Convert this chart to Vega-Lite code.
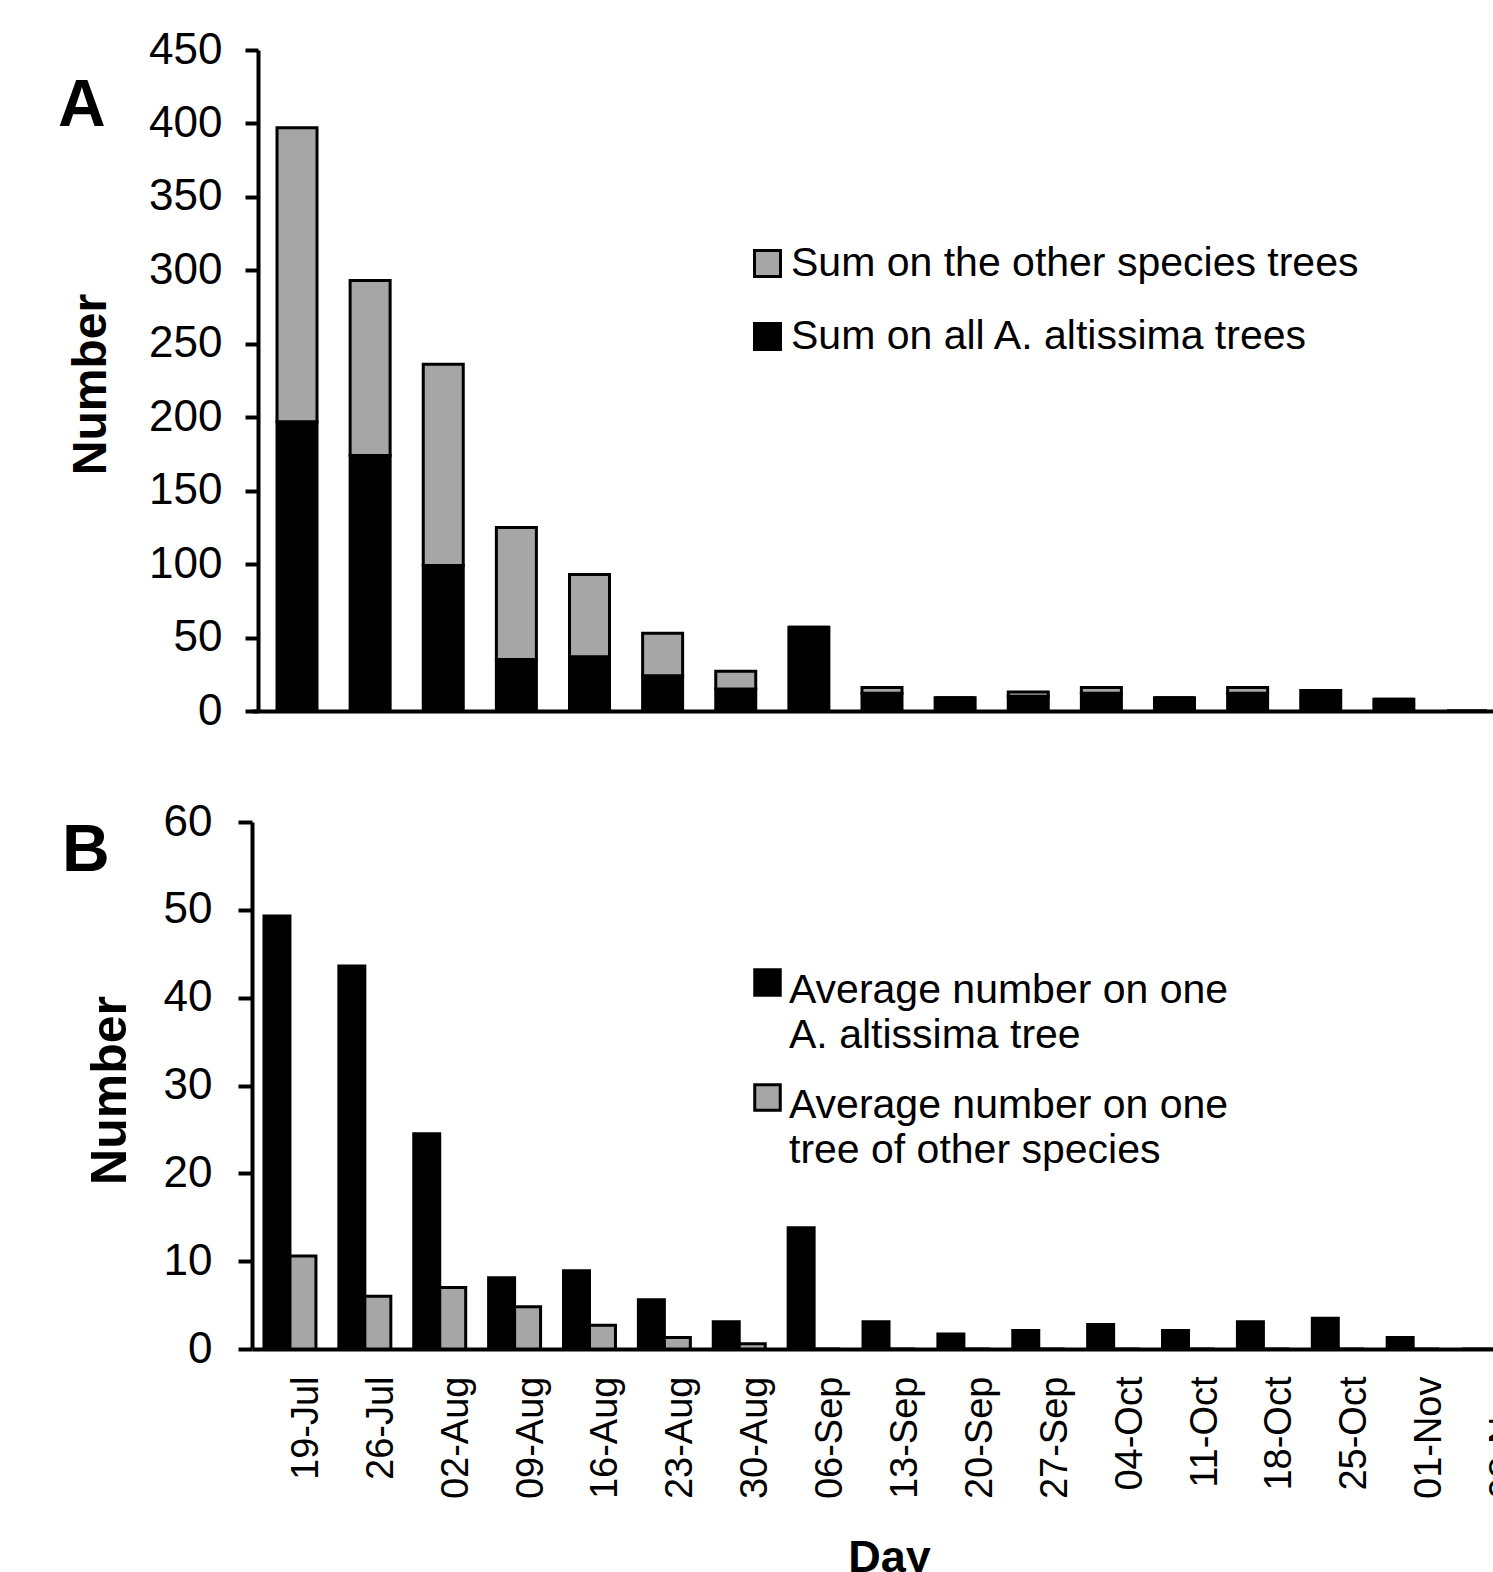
{
  "$schema": "https://vega.github.io/schema/vega-lite/v6.json",
  "autosize": {"type": "none"},
  "padding": {"left": 252, "top": 50, "right": 1241, "bottom": 1522},
  "background": "white",
  "config": {
    "font": "Liberation Sans",
    "view": {"stroke": null},
    "axis": {"domainColor": "black", "domainWidth": 4, "tickColor": "black", "tickWidth": 4, "grid": false, "labelColor": "black", "titleColor": "black", "labelFont": "Liberation Sans", "titleFont": "Liberation Sans"},
    "title": {"color": "black", "font": "Liberation Sans"}
  },
  "resolve": {
    "scale": {"x": "independent", "y": "independent", "color": "independent", "xOffset": "independent"},
    "axis": {"x": "independent", "y": "independent"},
    "legend": {"color": "independent"}
  },
  "bounds": "flush",
  "spacing": 111,
  "vconcat": [
    {
      "width": 1260,
      "height": 661,
      "title": {"text": "A", "anchor": "start", "frame": "group", "fontSize": 66, "fontWeight": "bold", "dx": -194, "dy": 116},
      "data": {"values": [
        {"day": "19-Jul", "series": "Sum on all A. altissima trees", "value": 197},
        {"day": "19-Jul", "series": "Sum on the other species trees", "value": 200},
        {"day": "26-Jul", "series": "Sum on all A. altissima trees", "value": 174},
        {"day": "26-Jul", "series": "Sum on the other species trees", "value": 119},
        {"day": "02-Aug", "series": "Sum on all A. altissima trees", "value": 99},
        {"day": "02-Aug", "series": "Sum on the other species trees", "value": 137},
        {"day": "09-Aug", "series": "Sum on all A. altissima trees", "value": 35},
        {"day": "09-Aug", "series": "Sum on the other species trees", "value": 90},
        {"day": "16-Aug", "series": "Sum on all A. altissima trees", "value": 37},
        {"day": "16-Aug", "series": "Sum on the other species trees", "value": 56},
        {"day": "23-Aug", "series": "Sum on all A. altissima trees", "value": 24},
        {"day": "23-Aug", "series": "Sum on the other species trees", "value": 29},
        {"day": "30-Aug", "series": "Sum on all A. altissima trees", "value": 15},
        {"day": "30-Aug", "series": "Sum on the other species trees", "value": 12},
        {"day": "06-Sep", "series": "Sum on all A. altissima trees", "value": 57},
        {"day": "06-Sep", "series": "Sum on the other species trees", "value": 0},
        {"day": "13-Sep", "series": "Sum on all A. altissima trees", "value": 12},
        {"day": "13-Sep", "series": "Sum on the other species trees", "value": 4},
        {"day": "20-Sep", "series": "Sum on all A. altissima trees", "value": 9},
        {"day": "20-Sep", "series": "Sum on the other species trees", "value": 0},
        {"day": "27-Sep", "series": "Sum on all A. altissima trees", "value": 10},
        {"day": "27-Sep", "series": "Sum on the other species trees", "value": 3},
        {"day": "04-Oct", "series": "Sum on all A. altissima trees", "value": 12},
        {"day": "04-Oct", "series": "Sum on the other species trees", "value": 4},
        {"day": "11-Oct", "series": "Sum on all A. altissima trees", "value": 9},
        {"day": "11-Oct", "series": "Sum on the other species trees", "value": 0},
        {"day": "18-Oct", "series": "Sum on all A. altissima trees", "value": 12},
        {"day": "18-Oct", "series": "Sum on the other species trees", "value": 4},
        {"day": "25-Oct", "series": "Sum on all A. altissima trees", "value": 14},
        {"day": "25-Oct", "series": "Sum on the other species trees", "value": 0},
        {"day": "01-Nov", "series": "Sum on all A. altissima trees", "value": 8},
        {"day": "01-Nov", "series": "Sum on the other species trees", "value": 0},
        {"day": "08-Nov", "series": "Sum on all A. altissima trees", "value": 0},
        {"day": "08-Nov", "series": "Sum on the other species trees", "value": 0}
      ]},
      "mark": {"type": "bar", "stroke": "black", "strokeWidth": 3},
      "encoding": {
        "x": {"field": "day", "type": "nominal", "sort": null,
          "scale": {"paddingInner": 0.453, "paddingOuter": 0.342},
          "axis": {"labels": false, "ticks": false, "title": null}},
        "y": {"field": "value", "type": "quantitative", "stack": "zero",
          "scale": {"domain": [0, 450]},
          "axis": {"values": [0, 50, 100, 150, 200, 250, 300, 350, 400, 450], "offset": -6, "tickSize": 13, "labelPadding": 23, "labelFontSize": 44,
            "title": "Number", "titleFontSize": 48, "titleFontWeight": "bold", "titleX": -153, "titleY": 334, "titleBaseline": "alphabetic", "titleAngle": -90}},
        "order": {"field": "series", "sort": "ascending"},
        "color": {"field": "series", "type": "nominal",
          "scale": {"domain": ["Sum on the other species trees", "Sum on all A. altissima trees"], "range": ["#a6a6a6", "#000000"]},
          "legend": {"orient": "none", "legendX": 495, "legendY": 193, "title": null, "symbolType": "square", "symbolSize": 676,
            "symbolStrokeColor": "black", "symbolStrokeWidth": 3, "labelFontSize": 41, "labelColor": "black", "labelFont": "Liberation Sans",
            "rowPadding": 31, "labelOffset": 3, "labelLimit": 0}}
      }
    },
    {
      "width": 1274,
      "height": 527,
      "title": {"text": "B", "anchor": "start", "frame": "group", "fontSize": 66, "fontWeight": "bold", "dx": -190, "dy": 89},
      "data": {"values": [
        {"day": "19-Jul", "series": "Average number on one A. altissima tree", "value": 49.3},
        {"day": "19-Jul", "series": "Average number on one tree of other species", "value": 10.6},
        {"day": "26-Jul", "series": "Average number on one A. altissima tree", "value": 43.6},
        {"day": "26-Jul", "series": "Average number on one tree of other species", "value": 6.0},
        {"day": "02-Aug", "series": "Average number on one A. altissima tree", "value": 24.5},
        {"day": "02-Aug", "series": "Average number on one tree of other species", "value": 7.0},
        {"day": "09-Aug", "series": "Average number on one A. altissima tree", "value": 8.1},
        {"day": "09-Aug", "series": "Average number on one tree of other species", "value": 4.8},
        {"day": "16-Aug", "series": "Average number on one A. altissima tree", "value": 8.9},
        {"day": "16-Aug", "series": "Average number on one tree of other species", "value": 2.7},
        {"day": "23-Aug", "series": "Average number on one A. altissima tree", "value": 5.6},
        {"day": "23-Aug", "series": "Average number on one tree of other species", "value": 1.3},
        {"day": "30-Aug", "series": "Average number on one A. altissima tree", "value": 3.1},
        {"day": "30-Aug", "series": "Average number on one tree of other species", "value": 0.6},
        {"day": "06-Sep", "series": "Average number on one A. altissima tree", "value": 13.8},
        {"day": "06-Sep", "series": "Average number on one tree of other species", "value": 0},
        {"day": "13-Sep", "series": "Average number on one A. altissima tree", "value": 3.1},
        {"day": "13-Sep", "series": "Average number on one tree of other species", "value": 0},
        {"day": "20-Sep", "series": "Average number on one A. altissima tree", "value": 1.7},
        {"day": "20-Sep", "series": "Average number on one tree of other species", "value": 0},
        {"day": "27-Sep", "series": "Average number on one A. altissima tree", "value": 2.1},
        {"day": "27-Sep", "series": "Average number on one tree of other species", "value": 0},
        {"day": "04-Oct", "series": "Average number on one A. altissima tree", "value": 2.8},
        {"day": "04-Oct", "series": "Average number on one tree of other species", "value": 0},
        {"day": "11-Oct", "series": "Average number on one A. altissima tree", "value": 2.1},
        {"day": "11-Oct", "series": "Average number on one tree of other species", "value": 0},
        {"day": "18-Oct", "series": "Average number on one A. altissima tree", "value": 3.1},
        {"day": "18-Oct", "series": "Average number on one tree of other species", "value": 0},
        {"day": "25-Oct", "series": "Average number on one A. altissima tree", "value": 3.5},
        {"day": "25-Oct", "series": "Average number on one tree of other species", "value": 0},
        {"day": "01-Nov", "series": "Average number on one A. altissima tree", "value": 1.3},
        {"day": "01-Nov", "series": "Average number on one tree of other species", "value": 0},
        {"day": "08-Nov", "series": "Average number on one A. altissima tree", "value": 0},
        {"day": "08-Nov", "series": "Average number on one tree of other species", "value": 0}
      ]},
      "mark": {"type": "bar", "stroke": "black", "strokeWidth": 3},
      "encoding": {
        "x": {"field": "day", "type": "nominal", "sort": null,
          "scale": {"paddingInner": 0.306, "paddingOuter": 0.16},
          "axis": {"labelAngle": -90, "labelFontSize": 38, "labelPadding": 27, "labelOffset": 17, "ticks": false,
            "title": "Day", "titleFontSize": 45, "titleFontWeight": "bold", "titlePadding": 37}},
        "xOffset": {"field": "series", "type": "nominal", "sort": ["Average number on one A. altissima tree", "Average number on one tree of other species"], "scale": {"paddingInner": 0, "paddingOuter": 0}},
        "y": {"field": "value", "type": "quantitative",
          "scale": {"domain": [0, 60]},
          "axis": {"values": [0, 10, 20, 30, 40, 50, 60], "tickSize": 14, "labelPadding": 26, "labelFontSize": 44,
            "title": "Number", "titleFontSize": 50, "titleFontWeight": "bold", "titleX": -127, "titleY": 268, "titleBaseline": "alphabetic", "titleAngle": -90}},
        "color": {"field": "series", "type": "nominal",
          "scale": {"domain": ["Average number on one A. altissima tree", "Average number on one tree of other species"], "range": ["#000000", "#a6a6a6"]},
          "legend": {"orient": "none", "legendX": 495, "legendY": 140, "title": null, "symbolType": "square", "symbolSize": 650,
            "symbolStrokeColor": "black", "symbolStrokeWidth": 3, "labelFontSize": 41, "labelColor": "black", "labelFont": "Liberation Sans",
            "rowPadding": 21, "labelOffset": 1, "labelLimit": 0, "labelBaseline": "middle",
            "labelExpr": "datum.label == 'Average number on one A. altissima tree' ? ['Average number on one', 'A. altissima tree'] : ['Average number on one', 'tree of other species']",
            "encode": {"labels": {"update": {"lineHeight": {"value": 45}, "dy": {"value": 8}}}}}}
      }
    }
  ]
}
